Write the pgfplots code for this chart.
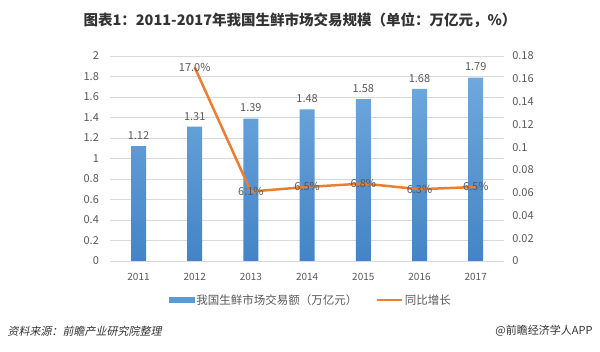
\documentclass[border=0pt]{standalone}
\usepackage{pgfplots}
\pgfplotsset{compat=1.18}
\usepackage{fontspec}
\setmainfont{Noto Sans CJK SC}
\newfontfamily\cjkit[FakeSlant=0.2]{Noto Sans CJK SC}
\definecolor{barblue}{RGB}{91,155,213}
\definecolor{bartop}{RGB}{110,168,222}
\definecolor{barbot}{RGB}{68,132,198}
\definecolor{lineorange}{RGB}{237,125,49}
\definecolor{ticktxt}{RGB}{89,89,89}
\definecolor{gridc}{RGB}{217,217,217}
\definecolor{titletxt}{RGB}{51,51,51}
\begin{document}
\begin{tikzpicture}[x=1pt,y=1pt]
\useasboundingbox (0,0) rectangle (600,352);
\fill[white] (0,0) rectangle (600,352);
\begin{axis}[
  at={(110.4pt,91pt)}, anchor=south west, scale only axis,
  width=393.4pt, height=205pt,
  xmin=-0.5, xmax=6.5, ymin=0, ymax=2,
  xtick={0,1,2,3,4,5,6},
  xticklabels={2011,2012,2013,2014,2015,2016,2017},
  ytick={0,0.2,0.4,0.6,0.8,1,1.2,1.4,1.6,1.8,2},
  yticklabels={0,0.2,0.4,0.6,0.8,1,1.2,1.4,1.6,1.8,2},
  axis line style={draw=none}, major tick style={draw=none},
  ymajorgrids, grid style={gridc, line width=0.8pt},
  yticklabel style={font=\fontsize{11}{11}\selectfont, text=ticktxt, xshift=-8pt},
  xticklabel style={font=\fontsize{10}{10}\selectfont, text=ticktxt, yshift=-9pt},
  /pgf/number format/assume math mode=true,
  clip=false,
]
\addplot[ybar, bar width=15pt, draw=none, top color=bartop, bottom color=barbot,
  nodes near coords,
  every node near coord/.append style={font=\fontsize{11}{11}\selectfont, text=ticktxt, yshift=3pt}]
  coordinates {(0,1.12) (1,1.31) (2,1.39) (3,1.48) (4,1.58) (5,1.68) (6,1.79)};
\end{axis}
\begin{axis}[
  at={(110.4pt,91pt)}, anchor=south west, scale only axis,
  width=393.4pt, height=205pt,
  xmin=-0.5, xmax=6.5, ymin=0, ymax=0.18,
  axis x line=none, axis y line*=right,
  axis line style={draw=none}, major tick style={draw=none},
  ytick={0,0.02,0.04,0.06,0.08,0.1,0.12,0.14,0.16,0.18},
  yticklabels={0,0.02,0.04,0.06,0.08,0.1,0.12,0.14,0.16,0.18},
  yticklabel style={font=\fontsize{11}{11}\selectfont, text=ticktxt, xshift=5pt},
  /pgf/number format/assume math mode=true,
  clip=false,
  legend columns=2,
  legend style={draw=none, fill=none, at={(0.51,-0.19)}, anchor=center,
    font=\fontsize{11.5}{11.5}\selectfont, text=ticktxt,
    /tikz/every even column/.append style={column sep=16pt}},
]
\addlegendimage{legend image code/.code={\fill[barblue] (0pt,-2.5pt) rectangle (25pt,2.5pt);}}
\addlegendentry{我国生鲜市场交易额（万亿元）}
\addplot[lineorange, line width=2.5pt, mark=none,
  legend image code/.code={\draw[lineorange, line width=2.5pt] (0pt,0pt) -- (25pt,0pt);},
  nodes near coords, point meta=explicit symbolic,
  every node near coord/.append style={anchor=center, font=\fontsize{11}{11}\selectfont, text=ticktxt}]
  coordinates {(1,0.17) [17.0\%] (2,0.061) [6.1\%] (3,0.065) [6.5\%] (4,0.068) [6.8\%] (5,0.063) [6.3\%] (6,0.065) [6.5\%]};
\addlegendentry{同比增长}
\end{axis}
\node[font=\bfseries\fontsize{14.5}{14.5}\selectfont, text=titletxt] at (300,332) {图表1：2011-2017年我国生鲜市场交易规模（单位：万亿元，\%）};
\node[anchor=west, font=\cjkit\fontsize{11}{11}\selectfont, text=titletxt] at (4,21) {资料来源：前瞻产业研究院整理};
\node[anchor=east, font=\fontsize{11}{11}\selectfont, text=titletxt] at (596,21) {@前瞻经济学人APP};
\end{tikzpicture}
\end{document}
